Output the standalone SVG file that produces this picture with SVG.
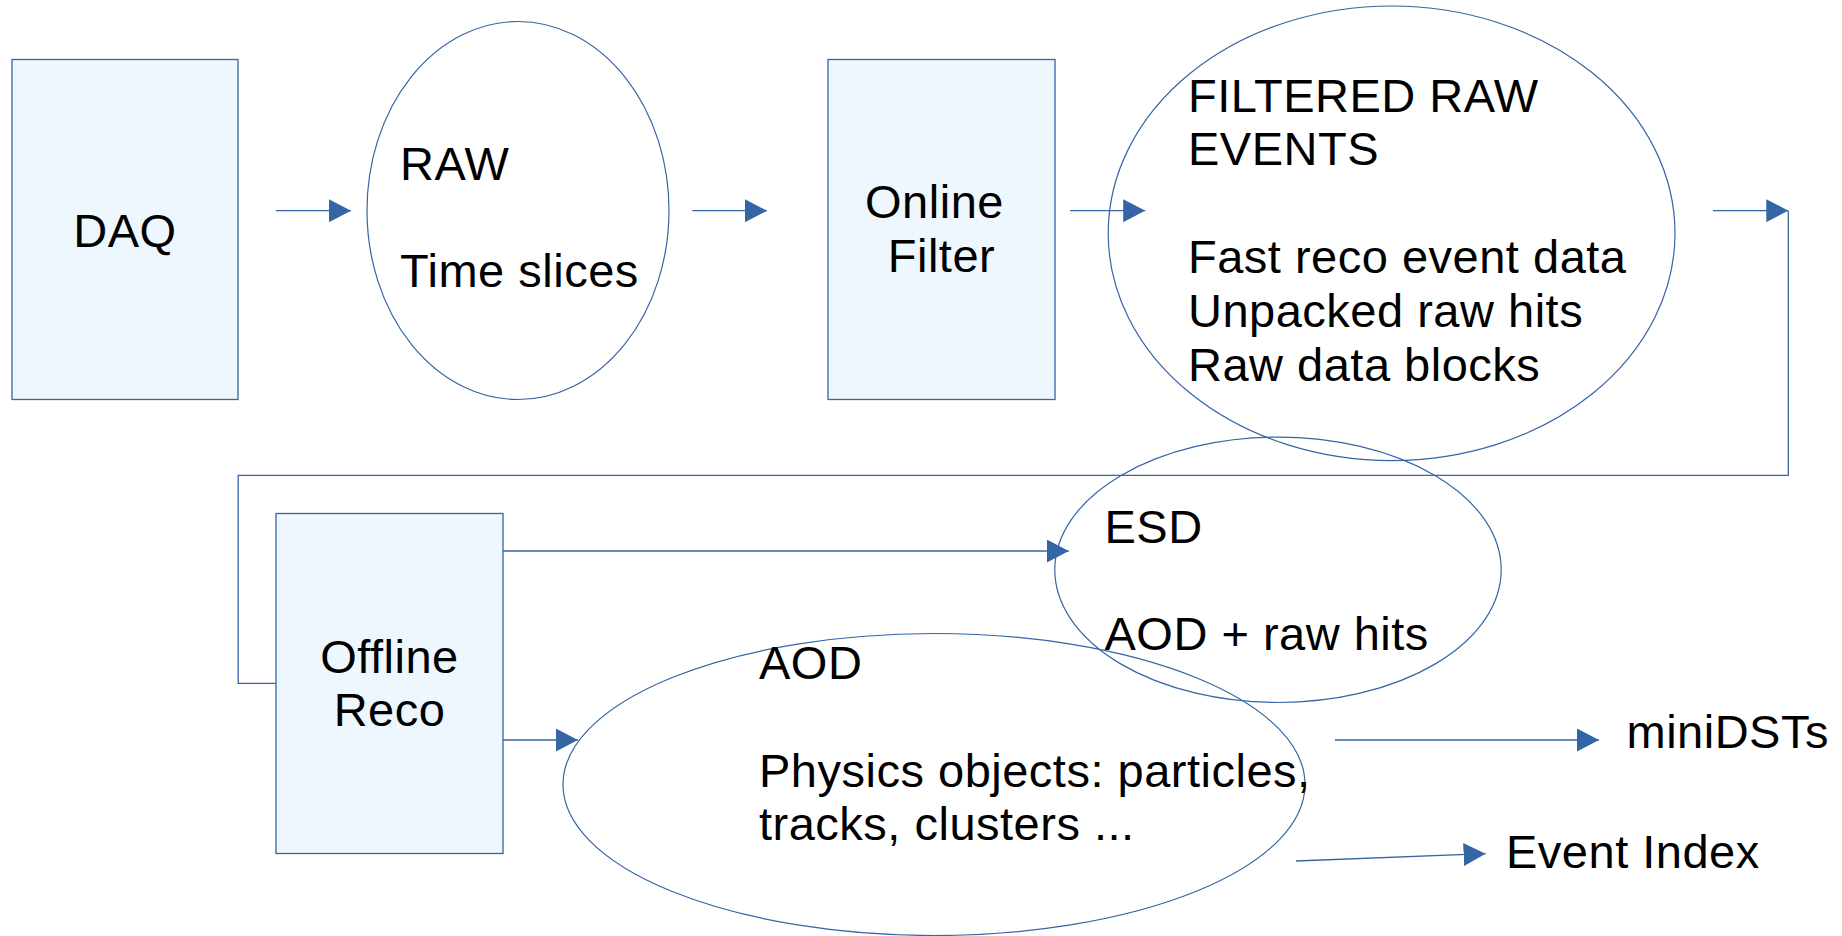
<svg xmlns="http://www.w3.org/2000/svg" width="1842" height="936" viewBox="0 0 1842 936">
<style>
.box{fill:#eef6fe;stroke:#3465a4;stroke-width:1.3}
.ell{fill:none;stroke:#3465a4;stroke-width:1.2}
.con{fill:none;stroke:#3465a4;stroke-width:1.3}
.t{font-family:"Liberation Sans",Arial,sans-serif;font-size:47px;letter-spacing:0.5px;fill:#000}
.m{text-anchor:middle}
</style>
<defs>
<marker id="ah" markerUnits="userSpaceOnUse" markerWidth="22" markerHeight="23" refX="22" refY="11.5" orient="auto" viewBox="0 0 22 23">
<path d="M0,0 L22,11.5 L0,23 Z" fill="#3465a4"/>
</marker>
</defs>
<rect width="1842" height="936" fill="#fff"/>
<g id="daq">
<rect class="box" x="12" y="59.5" width="226" height="340"/>
<text class="t m" x="125" y="246.7">DAQ</text>
</g>
<g id="raw">
<ellipse class="ell" cx="518" cy="210.5" rx="151" ry="189"/>
<text class="t" x="400" y="180">RAW</text>
<text class="t" x="400" y="286.7">Time slices</text>
</g>
<g id="online">
<rect class="box" x="828" y="59.5" width="227" height="340"/>
<text class="t m" x="934.5" y="218.3">Online</text>
<text class="t m" x="941.5" y="271.7">Filter</text>
</g>
<g id="filtered">
<ellipse class="ell" cx="1391.6" cy="233.3" rx="283.4" ry="227.3"/>
<text class="t" x="1188" y="111.7">FILTERED RAW</text>
<text class="t" x="1188" y="165.4">EVENTS</text>
<text class="t" x="1188" y="272.9">Fast reco event data</text>
<text class="t" x="1188" y="326.7">Unpacked raw hits</text>
<text class="t" x="1188" y="380.5">Raw data blocks</text>
</g>
<g id="offline">
<rect class="box" x="276" y="513.5" width="227" height="340"/>
<text class="t m" x="389.5" y="672.7">Offline</text>
<text class="t m" x="389.5" y="726">Reco</text>
</g>
<g id="esd">
<ellipse class="ell" cx="1278" cy="569.8" rx="223.2" ry="132.7"/>
<text class="t" x="1104.5" y="543.3">ESD</text>
<text class="t" x="1104.5" y="650">AOD + raw hits</text>
</g>
<g id="aod">
<ellipse class="ell" cx="934" cy="784.5" rx="371" ry="151"/>
<text class="t" x="759" y="679.3">AOD</text>
<text class="t" x="759" y="786.5">Physics objects: particles,</text>
<text class="t" x="759" y="840">tracks, clusters ...</text>
</g>
<g id="minidsts">
<text class="t" x="1626.5" y="747.7">miniDSTs</text>
</g>
<g id="eventindex">
<text class="t" x="1506" y="867.7">Event Index</text>
</g>
<g id="connectors">
<line class="con" x1="275.8" y1="210.7" x2="351" y2="210.7" marker-end="url(#ah)"/>
<line class="con" x1="692.3" y1="210.7" x2="767" y2="210.7" marker-end="url(#ah)"/>
<line class="con" x1="1070" y1="210.7" x2="1145.2" y2="210.7" marker-end="url(#ah)"/>
<line class="con" x1="1713" y1="210.7" x2="1788.3" y2="210.7" marker-end="url(#ah)"/>
<path class="con" d="M1788.3,210.7 V475.3 H238.2 V683.3 H275.8"/>
<line class="con" x1="503" y1="551" x2="1068.8" y2="551" marker-end="url(#ah)"/>
<line class="con" x1="503" y1="740" x2="577.9" y2="740" marker-end="url(#ah)"/>
<line class="con" x1="1335" y1="740" x2="1599" y2="740" marker-end="url(#ah)"/>
<line class="con" x1="1296" y1="861" x2="1485.6" y2="853.7" marker-end="url(#ah)"/>
</g>
</svg>
